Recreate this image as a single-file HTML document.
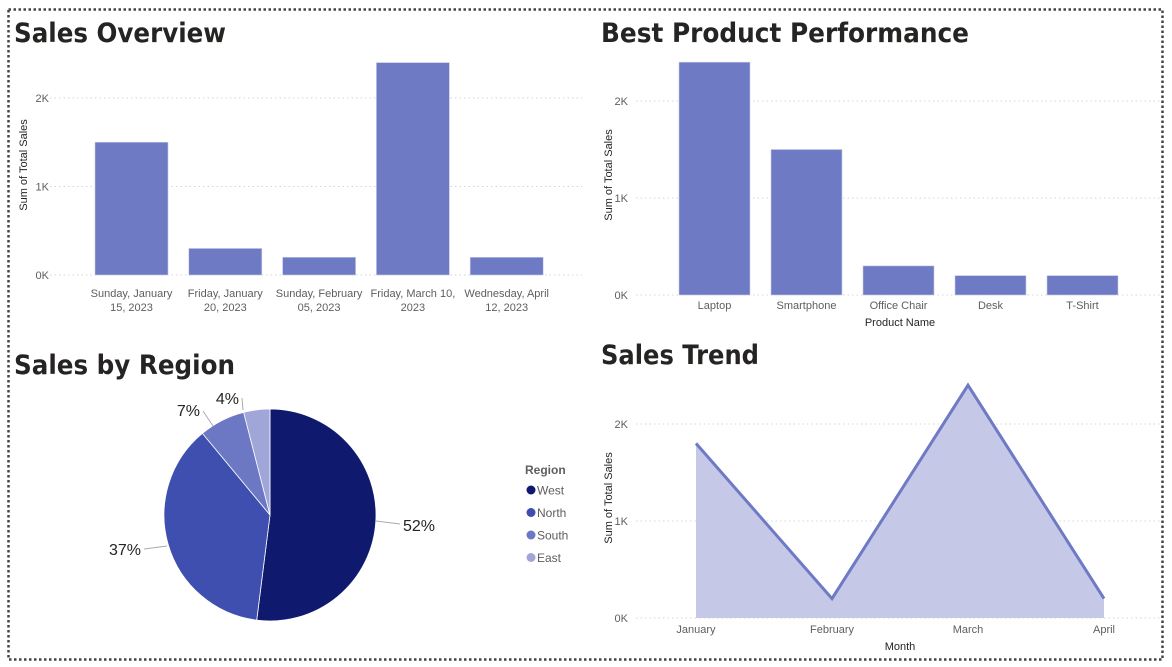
<!DOCTYPE html>
<html><head><meta charset="utf-8"><style>
body{margin:0;background:#fff;width:1172px;height:667px;overflow:hidden;font-family:"Liberation Sans","DejaVu Sans",sans-serif}
svg{display:block}
.t{font-family:"DejaVu Sans","Liberation Sans",sans-serif;font-weight:bold;font-size:27px;fill:#252423}
.tk{font-size:11px;fill:#605e5c}
.ax{font-size:11px;fill:#252423}
.grid{stroke:#d6d6d6;stroke-dasharray:1.5 3;stroke-width:1}
</style></head><body>
<svg id="s" width="1172" height="667">
<rect x="8.5" y="9.5" width="1154" height="650" fill="none" stroke="#444" stroke-width="2.5" stroke-dasharray="2.5 2.5"/>
<text class="t" x="14" y="42" textLength="212" lengthAdjust="spacingAndGlyphs">Sales Overview</text>
<text class="t" x="601" y="42" textLength="368" lengthAdjust="spacingAndGlyphs">Best Product Performance</text>
<text class="t" x="14" y="374" textLength="221" lengthAdjust="spacingAndGlyphs">Sales by Region</text>
<text class="t" x="601" y="364" textLength="158" lengthAdjust="spacingAndGlyphs">Sales Trend</text>
<g id="c1"></g><g id="c2"></g><g id="c3"></g><g id="c4"></g>
</svg>
<script>
const dateCats=["Sunday, January|15, 2023","Friday, January|20, 2023","Sunday, February|05, 2023","Friday, March 10,|2023","Wednesday, April|12, 2023"];
const dateSales=[1500,300,200,2400,200];
const productCats=["Laptop","Smartphone","Office Chair","Desk","T-Shirt"];
const productSales=[2400,1500,300,200,200];
const monthCats=["January","February","March","April"];
const monthSales=[1800,200,2400,200];
const regionCats=["West","North","South","East"];
const regionShare=[52,37,7,4];
const yTicks=[0,1000,2000];
const yTickLabels=["0K","1K","2K"];

const NS="http://www.w3.org/2000/svg";
function mk(p,tag,a,txt){const e=document.createElementNS(NS,tag);for(const k in a)e.setAttribute(k,a[k]);if(txt!=null)e.textContent=txt;p.appendChild(e);return e;}

function axes(g,y0,pxPerK,x0,x1,tx,titleX,titleY){
  yTicks.forEach((v,i)=>{const y=y0-v/1000*pxPerK;
    const l=mk(g,'line',{x1:x0,x2:x1,y1:y,y2:y,class:'grid'});
    
    
    const t=mk(g,'text',{x:tx,y:y+4,class:'tk','text-anchor':'end'},yTickLabels[i]);
    
    
  });
  const yt=mk(g,'text',{x:titleX,y:titleY,class:'ax','text-anchor':'middle',transform:`rotate(-90 ${titleX} ${titleY})`},'Sum of Total Sales');
  
  
}

function bars(g,cats,vals,y0,pxPerK,xStart,step,w,two,labY){
  vals.forEach((v,i)=>{const x=xStart+i*step,h=v/1000*pxPerK;
    const b=mk(g,'rect',{x:x,y:y0-h,width:w,height:h,fill:'#6f7ac4',stroke:'#c8cbe8','stroke-width':0.6});
    
    
    const parts=cats[i].split('|');
    parts.forEach((p,j)=>{const t=mk(g,'text',{x:x+w/2,y:labY+j*14,class:'tk','text-anchor':'middle'},p);
      
      });
  });
}

// chart 1
const c1=document.getElementById('c1');
axes(c1,275,88.5,50,582,49,27,165);
bars(c1,dateCats,dateSales,275,88.5,95,93.8,73,true,297);

// chart 2
const c2=document.getElementById('c2');
axes(c2,295,97,636,1160,628,612,175);
bars(c2,productCats,productSales,295,97,679,92,71,false,309);
{const t=mk(c2,'text',{x:900,y:326,class:'ax','text-anchor':'middle'},'Product Name');
}

// chart 4 area
const c4=document.getElementById('c4');
axes(c4,618,97,636,1160,628,612,498);
{const y0=618,k=97,xs=696,st=136;
 const pts=monthSales.map((v,i)=>[xs+i*st,y0-v/1000*k]);
 const area=mk(c4,'path',{d:'M'+pts[0][0]+','+y0+' '+pts.map(p=>'L'+p[0]+','+p[1]).join(' ')+' L'+pts[pts.length-1][0]+','+y0+'Z',fill:'#c5c8e7'});
 
 const ln=mk(c4,'polyline',{points:pts.map(p=>p.join(',')).join(' '),fill:'none',stroke:'#6f7ac4','stroke-width':3});
 
 monthCats.forEach((m,i)=>{const t=mk(c4,'text',{x:xs+i*st,y:633,class:'tk','text-anchor':'middle'},m);
  });
 const t=mk(c4,'text',{x:900,y:650,class:'ax','text-anchor':'middle'},'Month');
 
}

// chart 3 pie
const c3=document.getElementById('c3');
const colors=["#0f1a6f","#3f4fb0","#6c78c4","#a1a6d8"];
{const cx=270,cy=515,r=106;let a=0;const tot=regionShare.reduce((s,v)=>s+v,0);
 const lblPos=[[403,531,'start',376,521,400,524],[141,555,'end',167,546,144,549],[200,416,'end',213,426,203,411],[239,404,'end',243,410,242,398]];
 regionShare.forEach((v,i)=>{const a0=a,a1=a+v/tot*2*Math.PI;a=a1;
  const p=(t)=>[cx+r*Math.sin(t),cy-r*Math.cos(t)];
  const [x0,y0]=p(a0),[x1,y1]=p(a1);
  const s=mk(c3,'path',{d:`M${cx},${cy} L${x0},${y0} A${r},${r} 0 ${a1-a0>Math.PI?1:0} 1 ${x1},${y1}Z`,fill:colors[i],stroke:'#fff','stroke-width':0.8});
  
  const L=lblPos[i];
  const ln=mk(c3,'polyline',{points:`${L[3]},${L[4]} ${L[5]},${L[6]}`,fill:'none',stroke:'#aaa','stroke-width':1});
  
  const t=mk(c3,'text',{x:L[0],y:L[1],'font-size':16,fill:'#252423','text-anchor':L[2]},v+'%');
  
 });
 const lt=mk(c3,'text',{x:525,y:474,'font-size':12,'font-weight':'bold',fill:'#605e5c'},'Region');
 
 regionCats.forEach((n,i)=>{const y=490+i*22.5;
  const c=mk(c3,'circle',{cx:531,cy:y,r:4.5,fill:colors[i]});
  
  const t=mk(c3,'text',{x:537,y:y+4.5,'font-size':12,fill:'#605e5c'},n);
  });
}
</script>
</body></html>
